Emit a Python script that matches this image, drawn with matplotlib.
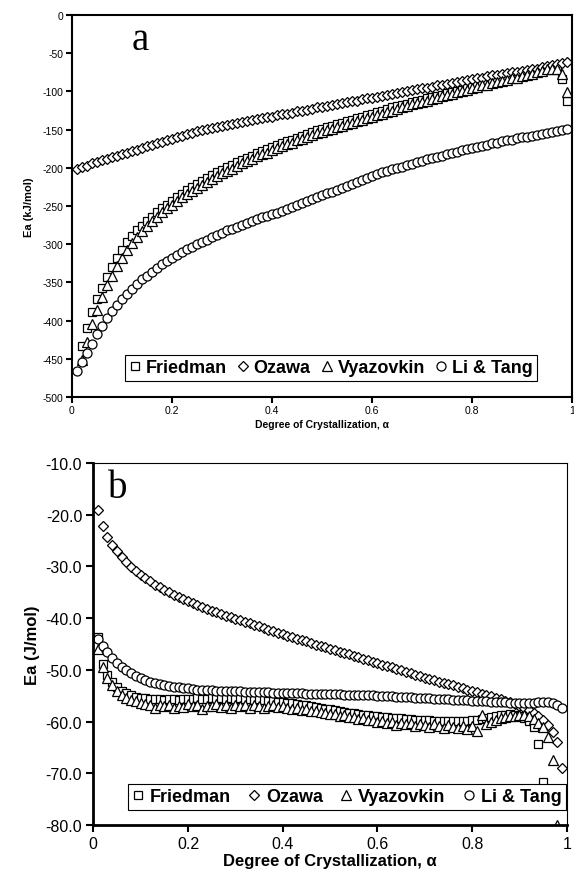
import matplotlib
matplotlib.use("Agg")
import matplotlib.pyplot as plt

plt.rcParams['font.family'] = ['Liberation Sans', 'DejaVu Sans']
plt.rcParams['axes.unicode_minus'] = False

# degree of crystallization grid (0.01 .. 0.99)
alpha = [i / 100 for i in range(1, 100)]

# ---- panel a : Ea (kJ/mol) ----
a_friedman = [-433, -410, -389, -372, -357, -343, -330, -318, -308, -297,
              -289, -282, -276, -270, -264, -258, -253, -248, -243, -238,
              -234, -229, -225, -221, -217, -213, -209.5, -206, -202.5, -199,
              -196, -193, -190, -187, -184, -181, -178, -175.5, -173, -170.5,
              -168, -165.5, -163, -160.5, -158, -155.5, -153, -151, -149, -147,
              -145, -143, -141, -139, -137, -135, -133, -131, -129, -127,
              -125, -123, -121, -119.5, -118, -116, -114, -112.5, -111, -109,
              -107.5, -106, -104, -102.5, -101, -99, -97.5, -96, -94, -92,
              -90.5, -89, -87.5, -86, -84.5, -83, -81.5, -80, -78.5, -77,
              -75.5, -74, -72, -70, -69, -71, -84, -112]
a_friedman_alpha = alpha[1:]

a_ozawa = [-201, -199, -197, -194, -192, -190, -188, -186, -184, -182,
           -180, -178, -176, -174, -172, -170, -168, -166, -164, -162,
           -160, -158, -156, -154, -152, -150, -149, -148, -146, -145,
           -144, -142, -141, -140, -139, -137, -136, -135, -134, -133,
           -131, -130, -129, -128, -126, -125, -124, -123, -121, -120,
           -119, -118, -116, -115, -114, -113, -112, -110, -109, -108,
           -107, -106, -105, -103, -102, -101, -100, -98, -97, -96,
           -95, -94, -92, -91, -90, -89, -88, -86, -85, -84,
           -83, -82, -80, -79, -78, -77, -76, -75, -74, -73,
           -72, -71, -70, -68, -67, -66, -64, -63, -61]

a_vyazovkin = [-452, -428, -405, -386, -369, -354, -341, -329, -318, -308,
               -299, -290, -283, -276, -270, -264, -258, -253, -248, -243,
               -238, -234, -230, -226, -222, -218, -214, -211, -207, -204,
               -201, -197, -194, -191, -188, -185, -182, -180, -177, -174,
               -172, -169, -167, -164, -162, -159, -157, -155, -153, -151,
               -149, -147, -145, -143, -141, -139, -137, -135, -133, -131,
               -129, -127, -125, -123, -121, -119, -117, -115, -114, -112,
               -110, -108, -106, -105, -103, -101, -99, -98, -96, -94,
               -92, -91, -89, -88, -86, -85, -83, -82, -80, -79,
               -77, -75, -73, -71, -70, -70, -77, -101]
a_vyazovkin_alpha = alpha[1:]

a_litang = [-466, -454, -442, -430, -418, -407, -397, -388, -380, -372,
            -365, -358, -352, -346, -341, -336, -331, -326, -322, -318,
            -314, -310, -306, -303, -300, -297, -294, -291, -288, -285,
            -282, -279.5, -277, -274.5, -272, -269.5, -267, -265, -263, -261,
            -258.5, -256, -253.5, -251, -248.5, -246, -243.5, -241, -238.5, -236,
            -233.5, -231, -228.5, -226, -223.5, -221, -218.5, -216, -213.5, -211,
            -208.5, -206, -204, -202, -200, -198.5, -196.5, -194.5, -193, -191,
            -189, -187.5, -185.5, -184, -182, -180.5, -179, -177, -175.5, -174,
            -172.5, -171, -169.5, -168, -167, -165.5, -164, -163, -161.5, -160,
            -159, -158, -156.5, -155.5, -154, -153, -152, -150.5, -149]

# ---- panel b : Ea (J/mol) ----
b_friedman = [-43.7, -48.9, -51.0, -52.4, -53.3, -54.0, -54.5, -54.9, -55.2, -55.4,
              -55.5, -55.6, -55.7, -55.6, -55.8, -55.7, -55.6, -55.8, -55.7, -55.6,
              -55.7, -55.5, -55.6, -55.7, -55.5, -55.6, -55.4, -55.6, -55.5, -55.6,
              -55.5, -55.7, -55.6, -55.8, -55.7, -55.9, -56.0, -56.1, -56.2, -56.3,
              -56.4, -56.5, -56.6, -56.7, -56.8, -56.9, -57.1, -57.3, -57.5, -57.6,
              -57.8, -58.0, -58.1, -58.3, -58.4, -58.6, -58.7, -58.8, -58.9, -59.0,
              -59.1, -59.2, -59.3, -59.3, -59.4, -59.5, -59.5, -59.6, -59.6, -59.7,
              -59.7, -59.8, -59.8, -59.8, -59.9, -59.9, -59.9, -59.8, -59.8, -59.7,
              -59.6, -59.5, -59.3, -59.1, -58.9, -58.8, -58.7, -58.6, -58.7, -58.9,
              -59.3, -59.8, -61.0, -64.3, -71.7]

b_ozawa = [-19.0, -22.2, -24.3, -25.8, -27.1, -28.2, -29.2, -30.1, -30.9, -31.7,
           -32.3, -32.9, -33.5, -34.0, -34.5, -35.0, -35.5, -35.9, -36.3, -36.7,
           -37.1, -37.5, -37.9, -38.2, -38.6, -38.9, -39.2, -39.5, -39.8, -40.1,
           -40.4, -40.7, -41.0, -41.3, -41.6, -41.9, -42.2, -42.5, -42.8, -43.1,
           -43.4, -43.7, -44.0, -44.2, -44.5, -44.8, -45.1, -45.4, -45.6, -45.9,
           -46.2, -46.5, -46.8, -47.0, -47.3, -47.6, -47.9, -48.1, -48.4, -48.7,
           -49.0, -49.3, -49.5, -49.8, -50.1, -50.4, -50.6, -50.9, -51.2, -51.5,
           -51.7, -52.0, -52.3, -52.5, -52.8, -53.0, -53.3, -53.6, -53.8, -54.1,
           -54.3, -54.6, -54.8, -55.1, -55.4, -55.7, -56.0, -56.3, -56.6, -57.0,
           -57.4, -57.8, -58.3, -58.9, -59.6, -60.6, -62.0, -64.0, -69.0]

b_vyazovkin = [-46.0, -49.5, -51.5, -53.0, -54.0, -54.8, -55.4, -55.8, -56.1, -56.4,
               -56.6, -56.8, -57.4, -56.8, -57.0, -56.7, -57.3, -56.9, -57.1, -56.6,
               -57.0, -56.8, -57.5, -56.9, -57.0, -56.6, -57.2, -56.8, -57.4, -56.7,
               -57.0, -56.8, -57.3, -56.7, -57.0, -57.4, -57.0, -56.8, -57.2, -57.0,
               -57.3, -57.5, -57.4, -57.7, -57.6, -57.9, -58.0, -58.2, -58.3, -58.5,
               -58.6, -58.9, -58.8, -59.1, -59.2, -59.5, -59.4, -59.7, -59.6, -60.0,
               -59.9, -60.3, -60.1, -60.6, -60.2, -60.5, -60.3, -60.9, -60.4, -60.7,
               -61.0, -60.5, -60.8, -61.3, -60.6, -61.0, -61.2, -60.8, -61.5, -60.9,
               -61.8, -58.8, -60.5, -60.0, -59.6, -59.3, -59.1, -58.9, -59.0, -58.8,
               -58.7, -58.9, -59.5, -60.2, -61.0, -63.0, -67.5, -80.0]

b_litang = [-44.0, -45.3, -46.6, -47.7, -48.6, -49.4, -50.1, -50.7, -51.2, -51.6,
            -52.0, -52.3, -52.6, -52.8, -53.0, -53.2, -53.3, -53.4, -53.5, -53.6,
            -53.7, -53.8, -53.8, -53.9, -53.9, -54.0, -54.0, -54.0, -54.1, -54.1,
            -54.1, -54.2, -54.2, -54.2, -54.3, -54.3, -54.3, -54.4, -54.4, -54.4,
            -54.4, -54.5, -54.5, -54.5, -54.6, -54.6, -54.6, -54.6, -54.7, -54.7,
            -54.7, -54.7, -54.8, -54.8, -54.8, -54.8, -54.9, -54.9, -54.9, -55.0,
            -55.0, -55.1, -55.1, -55.2, -55.2, -55.3, -55.3, -55.4, -55.4, -55.5,
            -55.5, -55.6, -55.6, -55.7, -55.7, -55.8, -55.8, -55.9, -55.9, -56.0,
            -56.0, -56.1, -56.1, -56.2, -56.2, -56.3, -56.3, -56.4, -56.4, -56.4,
            -56.4, -56.4, -56.4, -56.3, -56.3, -56.3, -56.4, -56.7, -57.3]

names = ["Friedman", "Ozawa", "Vyazovkin", "Li & Tang"]
markers = ["s", "D", "^", "o"]
msizes = [6, 4.6, 6.5, 6.5]

fig = plt.figure(figsize=(5.74, 8.78), dpi=100)
ax1 = fig.add_axes([0.125, 0.5467, 0.872, 0.435])
ax2 = fig.add_axes([0.1625, 0.0592, 0.825, 0.4123])

style = dict(linestyle="none", markerfacecolor="white", markeredgecolor="black",
             markeredgewidth=0.9)

top_series = [(a_friedman_alpha, a_friedman), (alpha, a_ozawa),
              (a_vyazovkin_alpha, a_vyazovkin), (alpha, a_litang)]
for (xs, ys), name, m, ms in zip(top_series, names, markers, msizes):
    ax1.plot(xs, ys, marker=m, markersize=ms, label=name, **style)

bot_series = [(alpha[:len(b_friedman)], b_friedman), (alpha, b_ozawa),
              (alpha[:len(b_vyazovkin)], b_vyazovkin), (alpha, b_litang)]
for (xs, ys), name, m, ms in zip(bot_series, names, markers, msizes):
    ax2.plot(xs, ys, marker=m, markersize=ms, label=name, **style)

# panel a axes
ax1.set_xlim(0, 1)
ax1.set_ylim(-500, 0)
ax1.set_yticks(range(-500, 1, 50))
ax1.set_xticks([0, 0.2, 0.4, 0.6, 0.8, 1])
ax1.set_xticklabels(["0", "0.2", "0.4", "0.6", "0.8", "1"])
ax1.tick_params(direction="out", length=4, width=1.5, labelsize=7.5, pad=2)
for sp in ax1.spines.values():
    sp.set_linewidth(1.5)
ax1.set_ylabel("Ea (kJ/mol)", fontsize=8, fontweight="bold", labelpad=6)
ax1.set_xlabel("Degree of Crystallization, α", fontsize=7.5, fontweight="bold", labelpad=3)
ax1.text(0.12, -44.5, "a", family="Liberation Serif", fontsize=28)
leg1 = ax1.legend(loc="center", bbox_to_anchor=(0.518, 0.076), ncol=4,
                  prop={"weight": "bold", "size": 13}, handlelength=0.6,
                  handletextpad=0.3, columnspacing=0.6, borderpad=0.25,
                  fancybox=False, framealpha=1, edgecolor="black")
leg1.get_frame().set_linewidth(0.8)

# panel b axes
ax2.set_xlim(0, 1)
ax2.set_ylim(-80, -10)
ax2.set_yticks(range(-80, -9, 10))
ax2.set_yticklabels([f"{v:.1f}" for v in range(-80, -9, 10)])
ax2.set_xticks([0, 0.2, 0.4, 0.6, 0.8, 1])
ax2.set_xticklabels(["0", "0.2", "0.4", "0.6", "0.8", "1"])
ax2.tick_params(direction="out", length=5, width=1.5, labelsize=11.5, pad=3)
ax2.spines["left"].set_linewidth(2)
ax2.spines["bottom"].set_linewidth(2)
ax2.spines["top"].set_linewidth(0.8)
ax2.spines["right"].set_linewidth(0.8)
ax2.set_ylabel("Ea (J/mol)", fontsize=12, fontweight="bold", labelpad=4)
ax2.set_xlabel("Degree of Crystallization, α", fontsize=12, fontweight="bold", labelpad=1)
ax2.text(0.03, -16.6, "b", family="Liberation Serif", fontsize=28)
leg2 = ax2.legend(loc="center", bbox_to_anchor=(0.5356, 0.0787), ncol=4,
                  prop={"weight": "bold", "size": 13}, handlelength=0.6,
                  handletextpad=0.35, columnspacing=1.0, borderpad=0.25,
                  fancybox=False, framealpha=1, edgecolor="black")
leg2.get_frame().set_linewidth(0.8)

fig.savefig("out.png", dpi=100)
